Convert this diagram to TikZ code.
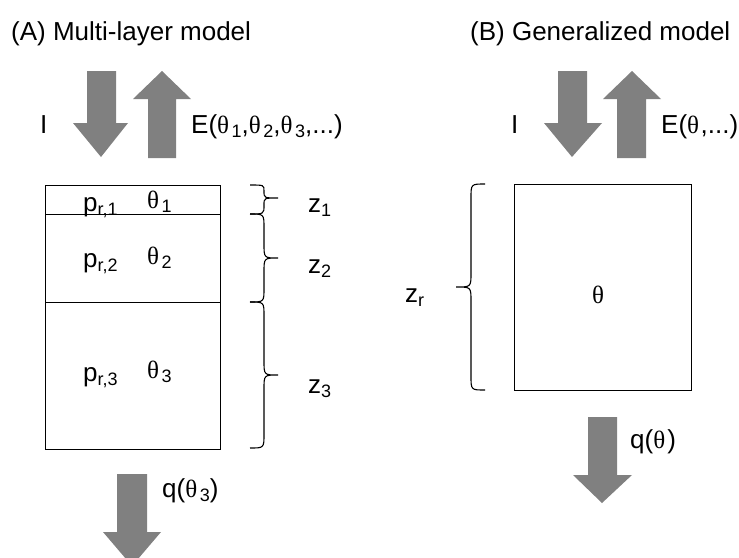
\documentclass[tikz,border=0pt]{standalone}
\usepackage{fontspec}
\setmainfont{Liberation Sans}
\newfontfamily\thfont{Liberation Serif}
\newcommand{\lw}[1]{\raisebox{-0.3ex}{\fontsize{18}{18}\selectfont #1}}
\newcommand{\thx}{{\thfont\fontsize{25}{25}\selectfont θ}}
\newcommand{\thsp}{\hspace{2.5pt}}
\begin{document}
\begin{tikzpicture}[x=1pt,y=-1pt,
  lbl/.style={inner sep=0pt, font=\fontsize{26}{30}\selectfont},
  boxline/.style={draw=black, line width=1pt},
  bigarrow/.style={fill=black!50, draw=none},
  bracepath/.style={draw=black, line width=1.1pt}]
\useasboundingbox (0,0) rectangle (739,557);
% titles
\node[lbl, anchor=base west] (tA) at (11,40) {(A) Multi-layer model};
\node[lbl, anchor=base west] (tB) at (470,40) {(B) Generalized model};
% ---- A arrows
\fill[bigarrow] (87,71) -- (116,71) -- (116,123) -- (128,123) -- (101,157) -- (73,123) -- (87,123) -- cycle;
\fill[bigarrow] (148,158) -- (176,158) -- (176,99) -- (191,99) -- (162,71) -- (133,99) -- (148,99) -- cycle;
\node[lbl, anchor=base west] (IA) at (40,133) {I};
\node[lbl, anchor=base west] (EA) at (191,133) {E(\thx\thsp\lw{1},\thx\thsp\lw{2},\thx\thsp\lw{3},...)};
% ---- A box
\node[boxline, minimum width=175pt, minimum height=264pt, inner sep=0pt, anchor=north west] (boxA) at (45,185) {};
\draw[boxline] (45,214) coordinate (l1w) -- (220,214) coordinate (l1e);
\draw[boxline] (45,302) coordinate (l2w) -- (220,302) coordinate (l2e);
\node[lbl, anchor=base west] (p1) at (83,211) {p\lw{r,1}};
\node[lbl, anchor=base west] (t1) at (147,208) {\thx\thsp\lw{1}};
\node[lbl, anchor=base west] (p2) at (83,267) {p\lw{r,2}};
\node[lbl, anchor=base west] (t2) at (147,264) {\thx\thsp\lw{2}};
\node[lbl, anchor=base west] (p3) at (83,381) {p\lw{r,3}};
\node[lbl, anchor=base west] (t3) at (147,378) {\thx\thsp\lw{3}};
% braces A
\draw[bracepath] (250,185) .. controls (264,185) .. (264,191) .. controls (264,198) .. (278,198)
   .. controls (264,198) .. (264,205) .. controls (264,214) .. (250,214);
\draw[bracepath] (250,214) .. controls (264,214) .. (264,228) -- (264,244) .. controls (264,258) .. (278,258)
   .. controls (264,258) .. (264,272) -- (264,288) .. controls (264,302) .. (250,302);
\draw[bracepath] (250,302) .. controls (264,302) .. (264,316) -- (264,361) .. controls (264,375) .. (278,375)
   .. controls (264,375) .. (264,389) -- (264,434) .. controls (264,448) .. (250,448);
\node[lbl, anchor=base west] (z1) at (308,212) {z\lw{1}};
\node[lbl, anchor=base west] (z2) at (308,273) {z\lw{2}};
\node[lbl, anchor=base west] (z3) at (308,393) {z\lw{3}};
% q arrow A
\fill[bigarrow] (117,474) -- (147,474) -- (147,532) -- (161,532) -- (132,566) -- (103,532) -- (117,532) -- cycle;
\node[lbl, anchor=base west] (qA) at (162,497) {q(\thx\thsp\lw{3})};
% ---- B arrows
\fill[bigarrow] (558,71) -- (587,71) -- (587,123) -- (602,123) -- (572,157) -- (544,123) -- (558,123) -- cycle;
\fill[bigarrow] (617,158) -- (646,158) -- (646,99) -- (661,99) -- (632,71) -- (603,99) -- (617,99) -- cycle;
\node[lbl, anchor=base west] (IB) at (511,133) {I};
\node[lbl, anchor=base west] (EB) at (661,133) {E(\thx\hspace{1.5pt},...)};
% B box
\node[boxline, minimum width=177pt, minimum height=206pt, inner sep=0pt, anchor=north west] (boxB) at (514,184) {};
\node[lbl, anchor=base] (thB) at (598,303) {\thx};
\draw[bracepath] (485,184) .. controls (471,184) .. (471,198) -- (471,273) .. controls (471,287) .. (456,287)
   .. controls (471,287) .. (471,301) -- (471,376) .. controls (471,390) .. (485,390);
\node[lbl, anchor=base west] (zr) at (405,302) {z\lw{r}};
% q arrow B
\fill[bigarrow] (588,417) -- (617,417) -- (617,475) -- (632,475) -- (602,503) -- (573,475) -- (588,475) -- cycle;
\node[lbl, anchor=base west] (qB) at (630,448) {q(\thx\hspace{2pt})};
\end{tikzpicture}
\end{document}
